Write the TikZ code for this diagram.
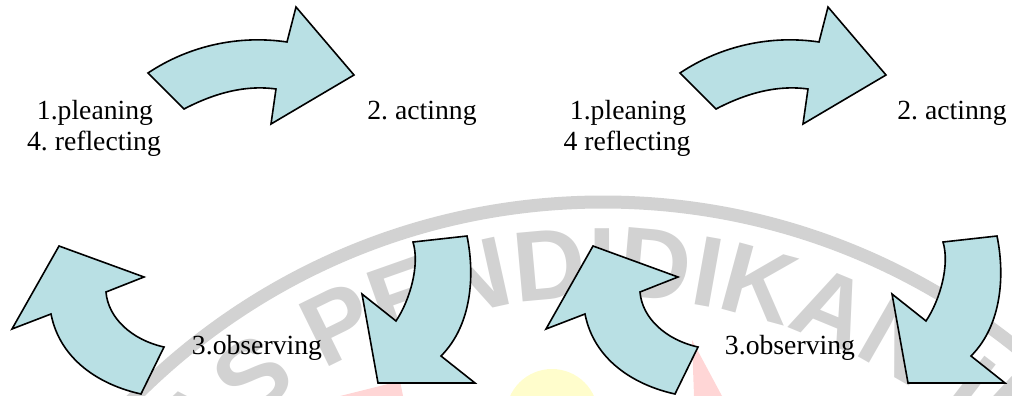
\documentclass[tikz,border=0pt]{standalone}
\usepackage{fontspec}
\setmainfont{Liberation Serif}
\newfontfamily\wmfont{Liberation Sans}
\usetikzlibrary{decorations.text}
\definecolor{arrowfill}{RGB}{185,224,228}
\definecolor{wmgray}{RGB}{210,210,210}
\definecolor{wmyellow}{RGB}{255,253,204}
\definecolor{wmpink}{RGB}{255,214,214}
\frenchspacing
\begin{document}
\begin{tikzpicture}[x=1pt,y=-1pt,
  bigarrow/.style={draw=black, line width=1.6pt, fill=arrowfill, line join=miter},
  lbl/.style={font=\fontsize{27.7}{31}\selectfont, anchor=base, inner sep=0pt}]
\useasboundingbox (0,0) rectangle (1012,396);
% watermark
\begin{scope}
\clip (0,0) rectangle (1012,396);
\fill[wmyellow] (552,415) circle[radius=46];
\fill[wmpink] (340,396) -- (400,381) -- (403,396) -- cycle;
\fill[wmpink] (692,340) -- (694,396) -- (722,396) -- cycle;
\draw[wmgray, line width=13pt] (603,862) circle[radius=660];
\path[decorate, decoration={text along path, text align=center,
  text={|\wmfont\bfseries\fontsize{100}{100}\selectfont\color{wmgray}|UNIVERSITAS PENDIDIKAN INDONESIA}}]
  (603,862) ++(166:565) arc[start angle=166, end angle=366, radius=565];
\end{scope}
% arrows, two groups
\foreach \dx/\dd/\du in {0/0/0, 532/530/534} {
  \begin{scope}[xshift=\dx pt]
  \draw[bigarrow] (148,73) .. controls (190,45) and (240,35) .. (287,42) -- (296,7) -- (354,75)
     -- (271,124) -- (276,89) .. controls (240,84) and (207,97) .. (184,109) -- cycle;
  \end{scope}
  \begin{scope}[xshift=\du pt]
  \draw[bigarrow] (12,329) -- (59,246) -- (144,277) -- (106,292)
     .. controls (108,318) and (132,340) .. (164,347) -- (141,394)
     .. controls (100,385) and (60,360) .. (51,314) -- cycle;
  \end{scope}
  \begin{scope}[xshift=\dd pt]
  \draw[bigarrow] (413,242) -- (467,236) .. controls (475,275) and (472,325) .. (441,356)
     -- (475,383) -- (378,383) -- (362,294) -- (396,321)
     .. controls (410,300) and (420,265) .. (413,242) -- cycle;
  \end{scope}
}
% labels
\node[lbl] (plan1) at (95,119) {1.pleaning};
\node[lbl] (refl1) at (94,150) {4. reflecting};
\node[lbl] (act1) at (422,119) {2. actinng};
\node[lbl] (obs1) at (257,354) {3.observing};
\node[lbl] (plan2) at (628,119) {1.pleaning};
\node[lbl] (refl2) at (627,150) {4 reflecting};
\node[lbl] (act2) at (952,119) {2. actinng};
\node[lbl] (obs2) at (790,354) {3.observing};
\end{tikzpicture}
\end{document}
